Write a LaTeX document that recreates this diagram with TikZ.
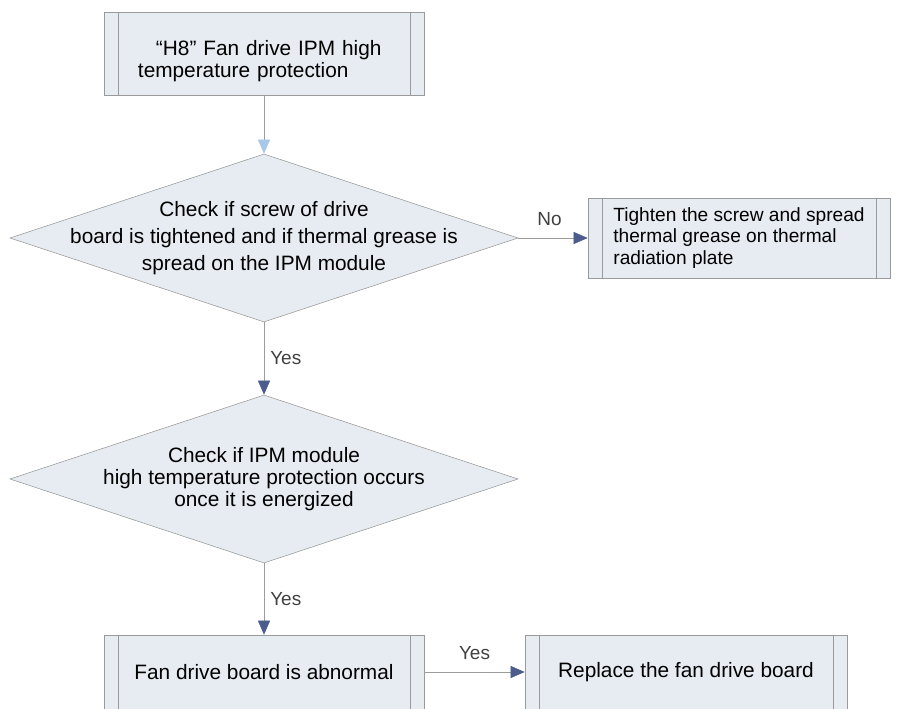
\documentclass[tikz,border=0pt]{standalone}
\usepackage{fontspec}
\setmainfont{Liberation Sans}
\usetikzlibrary{shapes.geometric,arrows.meta}
\definecolor{boxfill}{HTML}{E6ECF2}
\definecolor{boxedge}{HTML}{9A9A9A}
\definecolor{flowline}{HTML}{9C9C9C}
\definecolor{headblue}{HTML}{4C5C8C}
\definecolor{headlight}{HTML}{A8C8E8}
\begin{document}
\begin{tikzpicture}
[x=0.025cm, y=-0.025cm, font=\fontsize{14.8}{15.5}\selectfont]
\tikzstyle{process}=[rectangle, draw=boxedge, fill=boxfill, inner sep=0mm, align=left,
  path picture={\draw[boxedge] ([xshift=0.35cm]path picture bounding box.north west) -- ([xshift=0.35cm]path picture bounding box.south west);
                \draw[boxedge] ([xshift=-0.35cm]path picture bounding box.north east) -- ([xshift=-0.35cm]path picture bounding box.south east);}]
\tikzstyle{decision}=[diamond, draw=boxedge, fill=boxfill, inner sep=0mm, minimum width=12.7cm, minimum height=4.2cm]
\tikzstyle{flow}=[draw=flowline, -{Triangle[length=3.5mm, width=3mm, color=headblue]}]
\tikzstyle{tag}=[inner sep=0mm, text=black!75, font=\fontsize{13.5}{15}\selectfont]
\useasboundingbox (0,0) rectangle (900,709);
\clip (0,0) rectangle (900,709);

\node[process, minimum width=8cm, minimum height=2.08cm] (H8) at (264,53.5)
  [label={[align=left, text width=6.3cm, yshift=-0.2cm]center:\hspace*{0.45cm}``H8'' Fan drive IPM high\\temperature protection}] {};
\node[decision] (D1) at (264,238)
  [label={[align=center, font=\fontsize{14.8}{19.2}\selectfont]center:Check if screw of drive\\board is tightened and if thermal grease is\\spread on the IPM module}] {};
\node[process, minimum width=7.55cm, minimum height=2cm, font=\fontsize{13.6}{15.6}\selectfont] (Fix) at (739,238)
  {Tighten the screw and spread\\thermal grease on thermal\\radiation plate};
\node[decision] (D2) at (264,479)
  [label={[align=center]center:Check if IPM module\\high temperature protection occurs\\once it is energized}] {};
\node[process, minimum width=8cm, minimum height=1.85cm, align=center] (Bad) at (264,672)
  {Fan drive board is abnormal};
\node[process, minimum width=8.05cm, minimum height=1.85cm, align=center] (Rep) at (686,672)
  {Replace the fan drive board};

\draw [flow, -{Triangle[length=3.5mm, width=3mm, color=headlight]}] (H8)--(D1);
\draw [flow] (D1)--(Fix) node[tag, pos=0.45, above=3mm] {No};
\draw [flow] (D1)--(D2) node[tag, midway, right=1.5mm] {Yes};
\draw [flow] (D2)--(Bad) node[tag, midway, right=1.5mm] {Yes};
\draw [flow] (Bad)--(Rep) node[tag, midway, above=3mm] {Yes};
\end{tikzpicture}
\end{document}
